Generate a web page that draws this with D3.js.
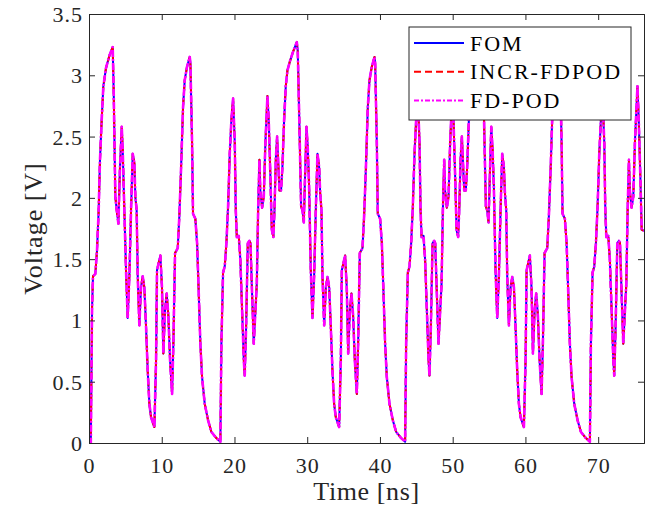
<!DOCTYPE html>
<html>
<head>
<meta charset="utf-8">
<script src="https://cdn.jsdelivr.net/npm/d3@7"></script>
<style>
  body { margin: 0; background: #fff; }
  svg { display: block; }
</style>
</head>
<body>
<div id="chart"></div>
<script>
// time [ns] and voltage [V]
const timeNs = [
  0, 0.25, 0.42, 0.55, 0.87, 1.10, 1.33, 1.51, 1.74, 1.97, 2.34, 2.80, 3.26,
  3.40, 3.62, 3.81, 4.04, 4.26, 4.50, 4.63, 4.77, 5.09, 5.32, 5.55, 5.78, 6.01, 6.24, 6.37, 6.55,
  6.70, 6.92, 7.15, 7.38, 7.61, 7.84, 8.07, 8.30, 8.53, 8.99, 9.22, 9.35, 9.58, 9.81, 10.04, 10.22,
  10.45, 10.68, 10.91, 11.14, 11.42, 11.60, 11.83, 12.20, 12.42, 12.65,
  12.93, 13.16, 13.48, 13.85, 13.94, 14.17, 14.30, 14.62, 14.86, 15.09, 15.31, 15.54, 15.91, 16.37,
  16.83, 17.51, 18.06, 18.20, 18.43, 18.66, 18.89, 19.12, 19.35, 19.57, 19.81, 20.04, 20.18, 20.32,
  20.59, 20.81, 21.05, 21.28, 21.41, 21.60, 21.83, 22.05, 22.20, 22.42, 22.65, 22.88, 23.07, 23.25,
  23.43, 23.55, 23.80, 24.03, 24.25, 24.53, 24.71, 24.94, 25.13, 25.35,
  25.50, 25.68, 25.86, 26.00, 26.18, 26.40, 26.59, 26.82, 27.05, 27.28, 27.65, 28.10, 28.57,
  28.70, 28.93, 29.16, 29.34, 29.53, 29.70, 29.90, 30.08, 30.26, 30.49, 30.72, 30.95, 31.18, 31.41,
  31.64, 31.78, 31.96, 32.10, 32.33, 32.56, 32.79, 33.02, 33.24, 33.47, 33.70, 33.93, 34.39, 34.62,
  34.76, 34.99, 35.21, 35.44, 35.63, 35.86, 36.08, 36.31, 36.54, 36.82, 37.00, 37.23, 37.60, 37.82, 38.06,
  38.33, 38.56, 38.88, 39.25, 39.34, 39.57, 39.70, 40.02, 40.26, 40.49, 40.71, 40.94, 41.31, 41.77,
  42.23, 42.91, 43.46, 43.60, 43.83, 44.06, 44.29, 44.52, 44.75, 44.97, 45.21, 45.44, 45.58, 45.72,
  45.99, 46.21, 46.45, 46.68, 46.81, 47.00, 47.23, 47.45, 47.60, 47.82, 48.05, 48.28, 48.47, 48.65,
  48.83, 48.95, 49.20, 49.43, 49.65, 49.93, 50.11, 50.34, 50.53, 50.75,
  50.90, 51.08, 51.26, 51.40, 51.58, 51.80, 51.99, 52.22, 52.45, 52.68, 53.05, 53.50, 53.97,
  54.10, 54.33, 54.56, 54.74, 54.93, 55.10, 55.30, 55.48, 55.66, 55.89, 56.12, 56.35, 56.58, 56.81,
  57.04, 57.18, 57.36, 57.50, 57.73, 57.96, 58.19, 58.42, 58.64, 58.87, 59.10, 59.33, 59.79, 60.02,
  60.16, 60.39, 60.61, 60.84, 61.03, 61.26, 61.48, 61.71, 61.94, 62.22, 62.40, 62.63, 63.00, 63.22, 63.46,
  63.73, 63.96, 64.28, 64.65, 64.74, 64.97, 65.10, 65.42, 65.66, 65.89, 66.11, 66.34, 66.71, 67.17,
  67.63, 68.31, 68.86, 69.00, 69.23, 69.46, 69.69, 69.92, 70.15, 70.37, 70.61, 70.84, 70.98, 71.12,
  71.39, 71.61, 71.85, 72.08, 72.21, 72.40, 72.63, 72.85, 73.00, 73.22, 73.45, 73.68, 73.87, 74.05,
  74.23, 74.35, 74.60, 74.83, 75.05, 75.40, 75.58, 75.80, 75.98, 76.30
];

const fomV = [
  0, 0, 1.10, 1.36, 1.38, 1.57, 1.90, 2.31, 2.63, 2.91, 3.06, 3.16, 3.23,
  2.85, 2.01, 1.90, 1.79, 2.25, 2.58, 2.40, 2.09, 1.41, 1.02, 1.36, 1.90, 2.36, 2.28, 2.01, 1.90,
  1.36, 0.96, 1.27, 1.36, 1.27, 0.95, 0.59, 0.32, 0.21, 0.13, 0.68, 1.41, 1.47, 1.53, 1.26, 0.73,
  1.08, 1.22, 1.04, 0.68, 0.40, 0.81, 1.55, 1.59, 1.85, 2.23,
  2.74, 2.96, 3.07, 3.15, 3.10, 2.45, 1.87, 1.83, 1.63, 1.22, 0.81, 0.54, 0.32, 0.185,
  0.09, 0.04, 0.01, 0.81, 1.39, 1.44, 1.63, 1.93, 2.36, 2.63, 2.81, 2.45, 1.90, 1.68,
  1.69, 1.49, 1.08, 0.68, 0.55, 0.95, 1.63, 1.65, 1.63, 1.22, 0.81, 1.08, 1.30, 1.90,
  2.31, 2.06, 1.92, 2.01, 2.45, 2.83, 2.63, 2.17, 1.74, 1.68,
  1.90, 2.31, 2.50, 2.31, 2.06, 2.06, 2.25, 2.63, 2.91, 3.04, 3.12, 3.20, 3.27,
  3.20, 2.58, 1.93, 1.90, 1.80, 2.17, 2.58, 2.40, 2.09, 1.41, 1.02, 1.36, 1.90, 2.36,
  2.25, 2.04, 1.90, 1.355, 0.96, 1.27, 1.355, 1.27, 0.95, 0.59, 0.32, 0.21, 0.13, 0.68,
  1.41, 1.47, 1.53, 1.26, 0.73, 1.08, 1.22, 1.04, 0.68, 0.40, 0.81, 1.55, 1.59, 1.85, 2.23,
  2.74, 2.96, 3.07, 3.15, 3.10, 2.45, 1.87, 1.83, 1.63, 1.22, 0.81, 0.54, 0.32, 0.185,
  0.09, 0.04, 0.01, 0.81, 1.39, 1.44, 1.63, 1.93, 2.36, 2.63, 2.81, 2.45, 1.90, 1.68,
  1.69, 1.49, 1.08, 0.68, 0.55, 0.95, 1.63, 1.65, 1.63, 1.22, 0.81, 1.08, 1.30, 1.90,
  2.31, 2.06, 1.92, 2.01, 2.45, 2.83, 2.63, 2.17, 1.74, 1.68,
  1.90, 2.31, 2.50, 2.31, 2.06, 2.06, 2.25, 2.63, 2.91, 3.04, 3.12, 3.20, 3.27,
  3.20, 2.58, 1.93, 1.90, 1.80, 2.17, 2.58, 2.40, 2.09, 1.41, 1.02, 1.36, 1.90, 2.36,
  2.25, 2.04, 1.90, 1.355, 0.96, 1.27, 1.355, 1.27, 0.95, 0.59, 0.32, 0.21, 0.13, 0.68,
  1.41, 1.47, 1.53, 1.26, 0.73, 1.08, 1.22, 1.04, 0.68, 0.40, 0.81, 1.55, 1.59, 1.85, 2.23,
  2.74, 2.96, 3.07, 3.15, 3.10, 2.45, 1.87, 1.83, 1.63, 1.22, 0.81, 0.54, 0.32, 0.185,
  0.09, 0.04, 0.01, 0.81, 1.39, 1.44, 1.63, 1.93, 2.36, 2.63, 2.81, 2.45, 1.90, 1.68,
  1.69, 1.49, 1.08, 0.68, 0.55, 0.95, 1.63, 1.65, 1.63, 1.22, 0.81, 1.08, 1.30, 1.90,
  2.31, 2.06, 1.92, 2.01, 2.45, 2.91, 2.63, 2.17, 1.74, 1.73
];

// the reduced models lie on top of the FOM curve at plot resolution
const incrFdpodV = fomV;
const fdPodV = fomV;

const seriesNames = ['FOM', 'INCR-FDPOD', 'FD-POD'];
const xTicks = [0, 10, 20, 30, 40, 50, 60, 70];
const yTicks = [0, 0.5, 1, 1.5, 2, 2.5, 3, 3.5];
const yTickLabels = ['0', '0.5', '1', '1.5', '2', '2.5', '3', '3.5'];

const serif = '"Liberation Serif", "Times New Roman", serif';
const width = 655, height = 510;
const margin = { top: 14, right: 11, bottom: 67, left: 89 };
const w = width - margin.left - margin.right;
const h = height - margin.top - margin.bottom;

const x = d3.scaleLinear().domain([0, 76.3]).range([0, w]);
const y = d3.scaleLinear().domain([0, 3.5]).range([h, 0]);

const svg = d3.select('#chart').append('svg')
  .attr('width', width)
  .attr('height', height);

const g = svg.append('g')
  .attr('transform', 'translate(' + margin.left + ',' + margin.top + ')');

g.append('clipPath').attr('id', 'clip')
  .append('rect').attr('width', w).attr('height', h);

const styles = [
  { color: '#0000ff', width: 2, dash: null },
  { color: '#ff0000', width: 2, dash: '7,4' },
  { color: '#ff00ff', width: 2.6, dash: '7,2,2,2' }
];
const allSeries = [fomV, incrFdpodV, fdPodV];

const line = d3.line()
  .x(d => x(d[0]))
  .y(d => y(d[1]));

allSeries.forEach((vals, k) => {
  const pts = timeNs.map((t, i) => [t, vals[i]]);
  g.append('path')
    .datum(pts)
    .attr('clip-path', 'url(#clip)')
    .attr('fill', 'none')
    .attr('stroke', styles[k].color)
    .attr('stroke-width', styles[k].width)
    .attr('stroke-dasharray', styles[k].dash)
    .attr('stroke-linejoin', 'round')
    .attr('d', line);
});

// axes, ticks pointing inwards on all four sides
const xAxis = d3.axisBottom(x).tickValues(xTicks).tickSize(-6).tickPadding(11).tickFormat(d3.format('d'));
const yAxis = d3.axisLeft(y).tickValues(yTicks).tickSize(-6).tickPadding(6)
  .tickFormat((d, i) => yTickLabels[i]);

function styleTicks(a, dy) {
  a.selectAll('text')
    .style('font-family', serif)
    .style('font-size', '22px')
    .style('letter-spacing', '1px')
    .attr('fill', '#262626')
    .attr('dy', dy);
  a.selectAll('line, path').attr('stroke', '#262626');
}

g.append('g')
  .attr('transform', 'translate(0,' + h + ')')
  .call(xAxis)
  .call(a => styleTicks(a, '0.85em'));

g.append('g')
  .call(yAxis)
  .call(a => styleTicks(a, '0.34em'));

g.append('g')
  .call(d3.axisTop(x).tickValues(xTicks).tickSize(-6).tickFormat(''))
  .call(a => a.selectAll('line, path').attr('stroke', '#262626'));

g.append('g')
  .attr('transform', 'translate(' + w + ',0)')
  .call(d3.axisRight(y).tickValues(yTicks).tickSize(-6).tickFormat(''))
  .call(a => a.selectAll('line, path').attr('stroke', '#262626'));

// axis labels
svg.append('text')
  .attr('x', margin.left + w / 2)
  .attr('y', 500)
  .attr('text-anchor', 'middle')
  .style('font-family', serif)
  .style('font-size', '26px')
  .style('letter-spacing', '0.6px')
  .attr('fill', '#262626')
  .text('Time [ns]');

svg.append('text')
  .attr('transform', 'translate(42,' + (margin.top + h / 2) + ') rotate(-90)')
  .attr('text-anchor', 'middle')
  .style('font-family', serif)
  .style('font-size', '26px')
  .style('letter-spacing', '1px')
  .attr('fill', '#262626')
  .text('Voltage [V]');

// legend
const legend = svg.append('g').attr('transform', 'translate(409,27)');
legend.append('rect')
  .attr('width', 222).attr('height', 93)
  .attr('fill', '#fff')
  .attr('stroke', '#262626')
  .attr('stroke-width', 1);

seriesNames.forEach((name, k) => {
  const yy = 16 + k * 28.7;
  legend.append('line')
    .attr('x1', 5).attr('x2', 55)
    .attr('y1', yy).attr('y2', yy)
    .attr('stroke', styles[k].color)
    .attr('stroke-width', 2)
    .attr('stroke-dasharray', k === 2 ? '5,2,2,2' : styles[k].dash);
  legend.append('text')
    .attr('x', 61).attr('y', yy + 7.5)
    .style('font-family', serif)
    .style('font-size', '22px')
    .style('letter-spacing', '2px')
    .attr('fill', '#000')
    .text(name);
});
</script>
</body>
</html>
